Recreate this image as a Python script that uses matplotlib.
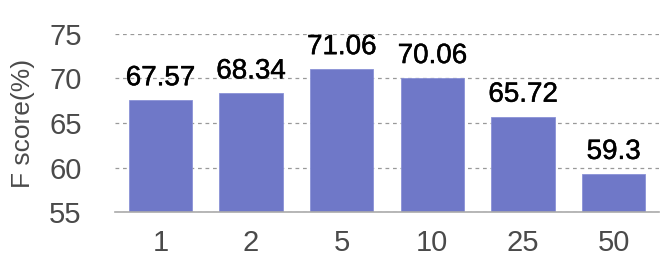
import matplotlib.pyplot as plt
import matplotlib.patheffects as pe

# values
categories = ['1', '2', '5', '10', '25', '50']
fscores = [67.57, 68.34, 71.06, 70.06, 65.72, 59.3]
labels = ['67.57', '68.34', '71.06', '70.06', '65.72', '59.3']

plt.rcParams['font.family'] = ['Liberation Sans', 'DejaVu Sans']

fig = plt.figure(figsize=(6.65, 2.59), dpi=100)
ax = fig.add_axes([0.173, 0.181, 0.818, 0.688])

x = range(len(categories))
bars = ax.bar(x, fscores, width=0.7, color='#6f78c8', edgecolor='#8a92d6',
              linewidth=0.6, zorder=2)

# value labels, slightly heavier like the original
for xi, v, lab in zip(x, fscores, labels):
    ax.text(xi, v + 1.0, lab, ha='center', va='bottom', fontsize=20, color='black',
            path_effects=[pe.withStroke(linewidth=0.35, foreground='black')])

ax.set_ylim(55, 75)
ax.set_xlim(-0.5, 5.5)
ax.set_yticks([55, 60, 65, 70, 75])
ax.set_xticks(list(x))
ax.set_xticklabels(categories)
ax.tick_params(axis='both', length=0, labelsize=21, colors='#4a4a4a')
ax.tick_params(axis='x', pad=12)
ax.tick_params(axis='y', pad=24)

for s in ['top', 'right', 'left']:
    ax.spines[s].set_visible(False)
ax.spines['bottom'].set_color('#aaaaaa')
ax.spines['bottom'].set_linewidth(1.2)

ax.yaxis.grid(True, linestyle=(0, (3, 3)), color='#999999', linewidth=0.9, zorder=0)
ax.set_axisbelow(True)

ax.set_ylabel('F score(%)', fontsize=19, color='#4a4a4a', labelpad=10)

fig.savefig('out.png', dpi=100)
